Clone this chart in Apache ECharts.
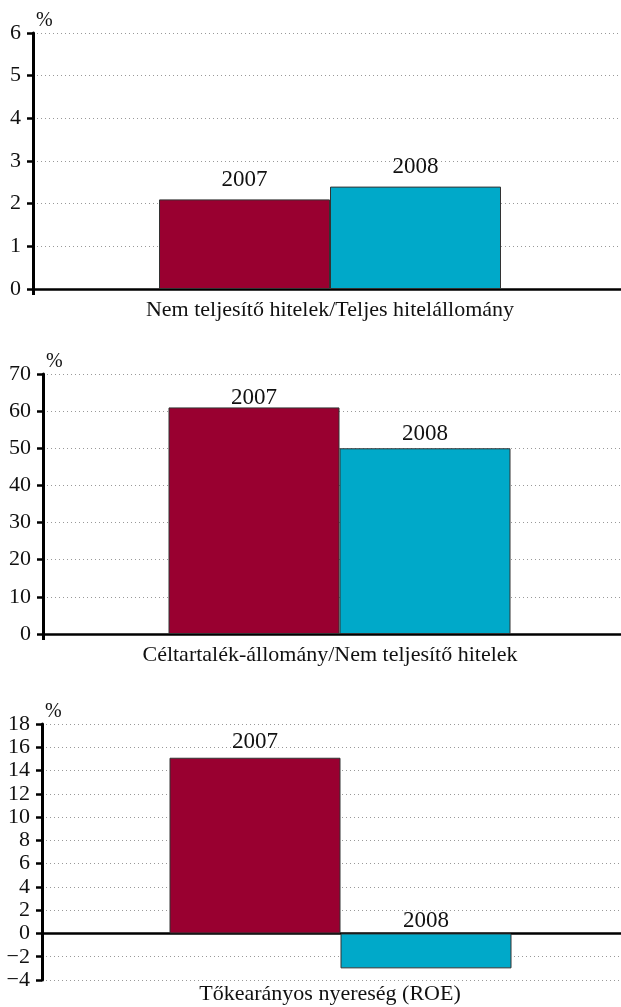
<!DOCTYPE html>
<html>
<head>
<meta charset="utf-8">
<script src="https://cdn.jsdelivr.net/npm/echarts@6/dist/echarts.min.js"></script>
<style>
  html, body { margin: 0; padding: 0; background: #fff; }
  #main { width: 621px; height: 1007px; }
</style>
</head>
<body>
<div id="main"></div>
<script>
// panel titles (category under each chart)
var categories = [
    'Nem teljesítő hitelek/Teljes hitelállomány',
    'Céltartalék-állomány/Nem teljesítő hitelek',
    'Tőkearányos nyereség (ROE)'
];
var years = ['2007', '2008'];
var values2007 = [2.1, 61, 15.1];
var values2008 = [2.4, 50, -3.0];
// y axis ranges per panel
var yMin = [0, 0, -4];
var yMax = [6, 70, 18];
var yStep = [1, 10, 2];

var colors = ['#990030', '#00a9c9'];
var font = 'Liberation Serif';

// grid placement per panel (right side runs past the page, like the original)
var grids = [
    {left: 33, top: 33, width: 594, height: 256, outerBoundsMode: 'none'},
    {left: 43, top: 374, width: 593, height: 260, outerBoundsMode: 'none'},
    {left: 42, top: 724, width: 597, height: 256, outerBoundsMode: 'none'}
];
var catMargin = [10, 10, 3];
var catPad = [[0, 0, 0, 0], [0, 19, 0, 0], [0, 21, 0, 0]]; // labels sit a bit left of the bars
var labelDist = [[8, 8], [-2, 3], [4, 1]];

var chart = echarts.init(document.getElementById('main'));

var xAxis = [], yAxis = [], series = [];
for (var i = 0; i < 3; i++) {
    xAxis.push({
        type: 'category',
        gridIndex: i,
        data: [categories[i]],
        axisLine: {onZero: true, lineStyle: {color: '#000', width: 2.5}},
        axisTick: {show: true, length: 6, lineStyle: {color: '#000', width: 3}},
        axisLabel: {
            margin: catMargin[i],
            padding: catPad[i],
            color: '#111',
            fontFamily: font,
            fontSize: 22
        },
        splitLine: {show: false}
    });
    yAxis.push({
        type: 'value',
        gridIndex: i,
        min: yMin[i],
        max: yMax[i],
        interval: yStep[i],
        name: '%',
        nameGap: 2,
        nameTextStyle: {color: '#111', fontFamily: font, fontSize: 20, align: 'left', padding: [0, 0, 0, 3]},
        axisLine: {show: true, onZero: false, lineStyle: {color: '#000', width: 3}},
        axisTick: {show: true, length: 6, lineStyle: {color: '#000', width: 2.5}},
        axisLabel: {
            margin: 12,
            color: '#111',
            fontFamily: font,
            fontSize: 22,
            formatter: function (v) { return String(v).replace('-', '\u2212'); }
        },
        splitLine: {show: true, lineStyle: {color: '#999', width: 1, type: [1, 3]}}
    });
    var vals = [values2007[i], values2008[i]];
    for (var j = 0; j < 2; j++) {
        series.push({
            name: years[j],
            type: 'bar',
            xAxisIndex: i,
            yAxisIndex: i,
            data: [vals[j]],
            barWidth: 171,
            barGap: '0%',
            itemStyle: {color: colors[j], borderColor: '#333', borderWidth: 1},
            label: {
                show: true,
                position: 'top',
                distance: labelDist[i][j],
                formatter: '{a}',
                color: '#111',
                fontFamily: font,
                fontSize: 23
            }
        });
    }
}

chart.setOption({
    animation: false,
    grid: grids,
    xAxis: xAxis,
    yAxis: yAxis,
    series: series
});
</script>
</body>
</html>
